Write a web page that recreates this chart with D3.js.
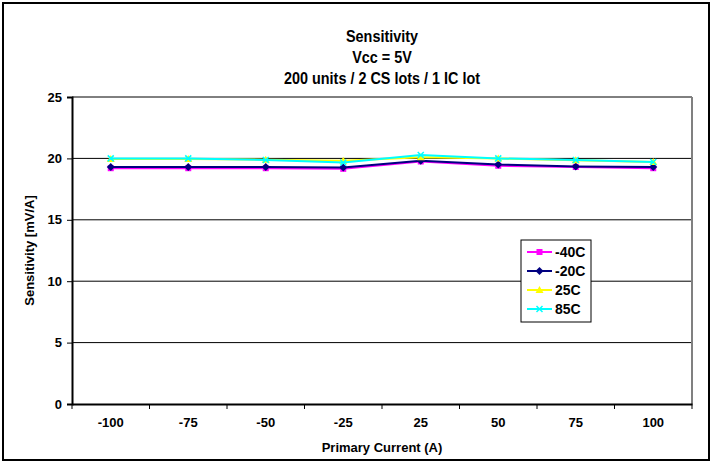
<!DOCTYPE html>
<html>
<head>
<meta charset="utf-8">
<script src="https://cdn.jsdelivr.net/npm/d3@7"></script>
<style>
  body { margin: 0; background: #fff; }
  svg text { font-family: "Liberation Sans", Arial, sans-serif; font-weight: bold; fill: #000; }
</style>
</head>
<body>
<svg id="chart" width="716" height="464"></svg>
<script>
// categories on x axis (primary current, A)
var currents = ["-100", "-75", "-50", "-25", "25", "50", "75", "100"];
var yTicks = [0, 5, 10, 15, 20, 25];

// sensitivity values per temperature (mV/A)
var sensM40 = [19.2, 19.2, 19.2, 19.15, 19.75, 19.4, 19.3, 19.2];
var sensM20 = [19.3, 19.3, 19.3, 19.25, 19.8, 19.5, 19.35, 19.3];
var sens25  = [19.95, 19.95, 19.9, 19.8, 20.1, 20.0, 19.85, 19.7];
var sens85  = [20.0, 20.0, 19.87, 19.67, 20.28, 20.0, 19.87, 19.7];

var series = [
  {name: "-40C", vals: sensM40, color: "#ff00ff", marker: "square"},
  {name: "-20C", vals: sensM20, color: "#000080", marker: "diamond"},
  {name: "25C",  vals: sens25,  color: "#ffff00", marker: "triangle"},
  {name: "85C",  vals: sens85,  color: "#00ffff", marker: "x"}
];

var svg = d3.select("#chart");
var pLeft = 72, pRight = 692, pTop = 97, pBottom = 404;

// outer frame
svg.append("rect").attr("x", 3).attr("y", 3).attr("width", 706).attr("height", 457)
  .attr("fill", "#fff").attr("stroke", "#000").attr("stroke-width", 2);

var x = d3.scaleBand().domain(currents).range([pLeft, pRight]);
var y = d3.scaleLinear().domain([0, 25]).range([pBottom, pTop]);

// gridlines
svg.append("g").selectAll("line").data(yTicks.filter(function(d){ return d > 0; }))
  .enter().append("line")
  .attr("x1", pLeft).attr("x2", pRight)
  .attr("y1", function(d){ return y(d); }).attr("y2", function(d){ return y(d); })
  .attr("stroke", "#000").attr("stroke-width", 1);

// plot area right border
svg.append("line").attr("x1", pRight).attr("x2", pRight).attr("y1", pTop).attr("y2", pBottom)
  .attr("stroke", "#808080").attr("stroke-width", 2);

// y axis
var yAxis = svg.append("g").attr("transform", "translate(" + pLeft + ",0)")
  .call(d3.axisLeft(y).tickValues(yTicks).tickSize(5).tickPadding(5));
yAxis.select(".domain").attr("stroke-width", 2);
yAxis.selectAll("text").style("font-size", "13px");

// x axis, ticks between categories
var xAxis = svg.append("g").attr("transform", "translate(0," + pBottom + ")")
  .call(d3.axisBottom(x).tickSize(0).tickPadding(14));
xAxis.select(".domain").attr("stroke-width", 2);
xAxis.selectAll("text").style("font-size", "13px");
svg.append("g").selectAll("line").data(d3.range(currents.length + 1))
  .enter().append("line")
  .attr("x1", function(i){ return pLeft + i * x.step(); })
  .attr("x2", function(i){ return pLeft + i * x.step(); })
  .attr("y1", pBottom).attr("y2", pBottom + 5)
  .attr("stroke", "#000");

// titles (slightly condensed like the original)
var titles = ["Sensitivity", "Vcc = 5V", "200 units / 2 CS lots / 1 IC lot"];
svg.append("g").attr("transform", "translate(382,0) scale(0.9,1)")
  .selectAll("text").data(titles).enter().append("text")
  .attr("x", 0).attr("y", function(d, i){ return 42 + i * 21; })
  .attr("text-anchor", "middle").style("font-size", "16px").text(function(d){ return d; });

svg.append("text").attr("x", 382).attr("y", 452).attr("text-anchor", "middle")
  .style("font-size", "13px").text("Primary Current (A)");
svg.append("text").attr("transform", "translate(34," + ((pTop + pBottom) / 2) + ") rotate(-90)")
  .attr("text-anchor", "middle").style("font-size", "13px").text("Sensitivity [mV/A]");

function drawMarker(g, type, color, cx, cy) {
  if (type == "square") {
    g.append("rect").attr("x", cx - 3).attr("y", cy - 3).attr("width", 6).attr("height", 6).attr("fill", color);
  } else if (type == "diamond") {
    g.append("path").attr("d", "M" + cx + "," + (cy - 4) + "L" + (cx + 4) + "," + cy + "L" + cx + "," + (cy + 4) + "L" + (cx - 4) + "," + cy + "Z").attr("fill", color);
  } else if (type == "triangle") {
    g.append("path").attr("d", "M" + cx + "," + (cy - 4) + "L" + (cx + 4) + "," + (cy + 3) + "L" + (cx - 4) + "," + (cy + 3) + "Z").attr("fill", color);
  } else {
    g.append("path").attr("d", "M" + (cx - 3) + "," + (cy - 3) + "L" + (cx + 3) + "," + (cy + 3) + "M" + (cx + 3) + "," + (cy - 3) + "L" + (cx - 3) + "," + (cy + 3))
      .attr("stroke", color).attr("stroke-width", 1.5).attr("fill", "none");
  }
}

var line = d3.line()
  .x(function(d, i){ return x(currents[i]) + x.bandwidth() / 2; })
  .y(function(d){ return y(d); });

series.forEach(function(s) {
  var g = svg.append("g");
  g.append("path").attr("d", line(s.vals)).attr("fill", "none")
    .attr("stroke", s.color).attr("stroke-width", 2);
  s.vals.forEach(function(v, i) {
    drawMarker(g, s.marker, s.color, x(currents[i]) + x.bandwidth() / 2, y(v));
  });
});

// legend
var leg = svg.append("g");
leg.append("rect").attr("x", 521).attr("y", 240).attr("width", 70).attr("height", 82)
  .attr("fill", "#fff").attr("stroke", "#000").attr("stroke-width", 1);
series.forEach(function(s, i) {
  var ly = 252 + i * 19;
  leg.append("line").attr("x1", 527).attr("x2", 552).attr("y1", ly).attr("y2", ly)
    .attr("stroke", s.color).attr("stroke-width", 2);
  drawMarker(leg, s.marker, s.color, 539.5, ly);
  leg.append("text").attr("x", 555).attr("y", ly + 5).style("font-size", "14px").text(s.name);
});
</script>
</body>
</html>
